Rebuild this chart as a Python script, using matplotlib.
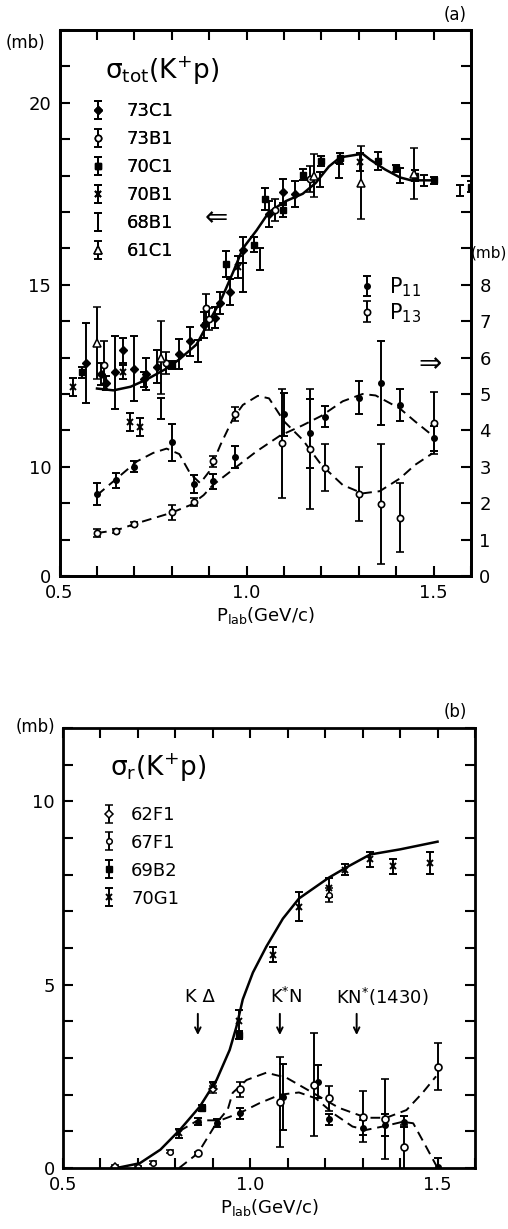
import numpy as np
import matplotlib
matplotlib.use("Agg")
import matplotlib.pyplot as plt
from matplotlib.ticker import FixedLocator, FixedFormatter, MultipleLocator

plt.rcParams['font.family'] = ['DejaVu Sans']
plt.rcParams['mathtext.fontset'] = 'dejavusans'

# ---------------- panel (a): sigma_tot(K+p), left axis in mb (broken: 7 shown as 0)
# (p_lab, sigma, error)
s73C1 = [(0.57, 12.85, 1.1), (0.61, 12.55, 0.3), (0.625, 12.3, 0.2), (0.647, 12.6, 1.0),
         (0.67, 13.2, 0.35), (0.70, 12.7, 0.9), (0.725, 12.4, 0.2), (0.73, 12.55, 0.45),
         (0.76, 12.75, 0.45), (0.82, 13.1, 0.4), (0.85, 13.45, 0.4), (0.885, 13.9, 0.35),
         (0.915, 14.1, 0.3), (0.93, 14.5, 0.3), (0.955, 14.8, 0.35), (0.99, 15.95, 0.35),
         (1.06, 16.95, 0.35), (1.097, 17.55, 0.35), (1.13, 17.5, 0.35)]
s73B1 = [(0.62, 12.8, 0.65), (0.785, 12.85, 0.3), (0.892, 14.35, 0.4), (0.90, 14.05, 0.3),
         (1.075, 17.05, 0.3), (1.17, 17.9, 0.35)]
s70C1 = [(0.56, 12.6, 0.15), (0.80, 12.8, 0.1), (0.945, 15.57, 0.35), (1.02, 16.1, 0.2),
         (1.05, 17.35, 0.3), (1.097, 17.05, 0.2), (1.15, 18.03, 0.15), (1.20, 18.4, 0.15),
         (1.25, 18.47, 0.15), (1.35, 18.4, 0.25), (1.40, 18.2, 0.1), (1.45, 18.0, 0.15),
         (1.50, 17.87, 0.1), (1.60, 17.7, 0.15)]
s70B1 = [(0.537, 12.2, 0.25), (0.67, 12.6, 0.2), (0.687, 11.23, 0.25), (0.715, 11.1, 0.25),
         (0.977, 15.5, 0.3), (1.303, 18.38, 0.25)]
s68B1 = [(0.77, 11.6, 0.3), (0.87, 13.17, 0.3), (0.99, 15.2, 0.4), (1.036, 15.7, 0.3),
         (1.196, 17.9, 0.2), (1.247, 18.14, 0.2), (1.41, 18.0, 0.2), (1.475, 17.87, 0.15),
         (1.57, 17.6, 0.15)]
s61C1 = [(0.60, 13.4, 1.0), (0.77, 13.0, 1.0), (1.18, 18.0, 0.6), (1.306, 17.8, 1.0),
         (1.447, 18.05, 0.7)]

fit_tot_p = [0.6, 0.644, 0.69, 0.733, 0.786, 0.82, 0.866, 0.90, 0.93, 0.945, 0.964, 0.99,
             1.027, 1.06, 1.105, 1.15, 1.185, 1.22, 1.25, 1.31, 1.33, 1.37, 1.41, 1.44, 1.497]
fit_tot_s = [12.15, 12.1, 12.2, 12.4, 12.7, 12.95, 13.36, 14.0, 14.55, 14.9, 15.35, 16.0,
             16.5, 17.0, 17.3, 17.5, 17.8, 18.25, 18.5, 18.6, 18.44, 18.17, 17.95, 17.87, 17.87]

# partial cross sections, right axis (mb)
p11 = [(0.60, 2.25, 0.3), (0.65, 2.63, 0.2), (0.70, 3.0, 0.15), (0.80, 3.67, 0.5),
       (0.86, 2.52, 0.25), (0.91, 2.6, 0.2), (0.97, 3.26, 0.3), (1.10, 4.44, 0.6),
       (1.17, 3.92, 0.95), (1.21, 4.38, 0.3), (1.30, 4.9, 0.45), (1.36, 5.3, 1.15),
       (1.41, 4.7, 0.45), (1.50, 3.78, 0.35)]
p13 = [(0.60, 1.18, 0.1), (0.65, 1.24, 0.06), (0.70, 1.42, 0.06), (0.80, 1.75, 0.2),
       (0.86, 2.03, 0.12), (0.91, 3.15, 0.15), (0.97, 4.45, 0.2), (1.095, 3.65, 1.5),
       (1.17, 3.5, 1.65), (1.21, 2.98, 0.65), (1.30, 2.25, 0.75), (1.36, 1.97, 1.65),
       (1.41, 1.6, 0.95), (1.50, 4.2, 0.85)]

fitA_p = [0.6, 0.707, 0.75, 0.786, 0.82, 0.85, 0.876, 0.90, 0.93, 0.964, 0.99, 1.03, 1.06,
          1.10, 1.15, 1.20, 1.257, 1.31, 1.356, 1.41, 1.45, 1.497]
fitA_r = [2.22, 3.15, 3.38, 3.5, 3.35, 2.8, 2.55, 2.87, 3.6, 4.33, 4.7, 4.95, 4.88,
          4.25, 3.74, 3.05, 2.5, 2.27, 2.33, 2.68, 3.05, 3.37]
fitB_p = [0.6, 0.653, 0.707, 0.797, 0.85, 0.885, 0.91, 0.973, 1.026, 1.09, 1.15, 1.2,
          1.257, 1.31, 1.345, 1.41, 1.45, 1.497]
fitB_r = [1.18, 1.26, 1.45, 1.73, 1.95, 2.22, 2.5, 3.0, 3.42, 3.86, 4.14, 4.4,
          4.8, 5.0, 4.96, 4.6, 4.25, 3.86]

# ---------------- panel (b): sigma_r(K+p)
s62F1 = [(0.64, 0.03, 0.04), (0.90, 2.15, 0.1)]
s67F1 = [(0.70, 0.03, 0.03), (0.74, 0.14, 0.04), (0.785, 0.45, 0.05), (1.21, 7.45, 0.2)]
s69B2 = [(0.87, 1.64, 0.08), (0.97, 3.63, 0.12)]
s70G1 = [(0.81, 0.95, 0.12), (0.90, 2.25, 0.1), (0.97, 4.0, 0.3), (1.06, 5.82, 0.2),
         (1.13, 7.13, 0.4), (1.21, 7.65, 0.25), (1.252, 8.14, 0.15), (1.32, 8.42, 0.2),
         (1.38, 8.23, 0.2), (1.48, 8.33, 0.3)]

part_fill = [(0.86, 1.26, 0.1), (0.91, 1.23, 0.12), (0.972, 1.5, 0.15), (1.087, 1.95, 0.9),
             (1.18, 2.35, 0.45), (1.21, 1.33, 0.15), (1.30, 1.1, 0.2), (1.36, 1.17, 0.3),
             (1.41, 1.26, 0.15), (1.50, 0.03, 0.25)]
part_open = [(0.86, 0.4, 0.05), (0.972, 2.15, 0.2), (1.08, 1.8, 1.23), (1.17, 2.27, 1.4),
             (1.21, 1.9, 0.35), (1.30, 1.4, 0.7), (1.36, 1.34, 1.1), (1.41, 0.57, 0.6),
             (1.50, 2.76, 0.64)]

fit_r_p = [0.643, 0.705, 0.76, 0.812, 0.865, 0.91, 0.945, 0.963, 0.98, 1.007, 1.043,
           1.087, 1.13, 1.21, 1.257, 1.32, 1.4, 1.5]
fit_r_s = [0, 0.13, 0.5, 1.04, 1.67, 2.4, 3.22, 3.85, 4.6, 5.33, 6.04, 6.8, 7.35, 7.92,
           8.2, 8.55, 8.69, 8.9]
fitC_p = [0.81, 0.86, 0.91, 0.94, 0.953, 0.99, 1.043, 1.097, 1.167, 1.237, 1.31, 1.363,
          1.417, 1.46, 1.496]
fitC_r = [0, 0.4, 1.23, 1.6, 2.05, 2.4, 2.6, 2.46, 2.05, 1.64, 1.37, 1.37, 1.58, 2.05, 2.5]
fitD_p = [0.81, 0.86, 0.92, 0.972, 1.025, 1.08, 1.13, 1.175, 1.22, 1.273, 1.31, 1.353,
          1.407, 1.435, 1.47, 1.5]
fitD_r = [1.0, 1.3, 1.3, 1.5, 1.77, 2.0, 2.06, 1.9, 1.5, 1.13, 1.04, 1.13, 1.26, 1.22, 0.57, 0]

thresholds = [("K Δ", 0.865, 0.86), ("K$^{*}$N", 1.097, 1.079), ("KN$^{*}$(1430)", 1.353, 1.284)]


def eb(ax, data, label=None, **kw):
    d = np.array(data)
    style = dict(ls='none', color='black', ecolor='black', elinewidth=1.4, capsize=3,
                 capthick=1.4, ms=4.5, mec='black')
    style.update(kw)
    return ax.errorbar(d[:, 0], d[:, 1], yerr=d[:, 2], label=label, **style)


def frame(ax):
    for s in ax.spines.values():
        s.set_linewidth(2)
    ax.tick_params(direction='in', length=7, width=1.5, labelsize=13,
                   top=True, right=False, pad=6)
    ax.xaxis.set_minor_locator(MultipleLocator(0.1))
    ax.tick_params(which='minor', direction='in', length=7, width=1.5, top=True)
    ax.set_xlim(0.5, 1.6)
    ax.set_xticks([0.5, 1.0, 1.5])
    ax.set_xticklabels(['0.5', '1.0', '1.5'])


fig = plt.figure(figsize=(5.08, 12.29), dpi=100)

# ---- (a)
ax = fig.add_axes([59.6 / 508, 1 - 576 / 1229, 411.4 / 508, 546 / 1229])
frame(ax)
ax.set_ylim(7, 22)
ax.yaxis.set_major_locator(FixedLocator(np.arange(7, 23)))
ax.yaxis.set_major_formatter(FixedFormatter(
    ['0' if t == 7 else (str(t) if t in (10, 15, 20) else '') for t in range(7, 23)]))
ax.set_xlabel('P$_{\\rm lab}$(GeV/c)', fontsize=13, labelpad=2)

h1 = eb(ax, s73C1, '73C1', marker='D', ms=3.8, mfc='black')
h2 = eb(ax, s73B1, '73B1', marker='o', mfc='white', mew=1.2)
h3 = eb(ax, s70C1, '70C1', marker='s', mfc='black')
h4 = eb(ax, s70B1, '70B1', marker='x', mew=1.4)
h5 = eb(ax, s68B1, '68B1', marker='none')
h6 = eb(ax, s61C1, '61C1', marker='^', mfc='white', ms=5.5, mew=1.1)
ax.plot(fit_tot_p, fit_tot_s, color='black', lw=1.8)

leg = ax.legend(handles=[h1, h2, h3, h4, h5, h6], loc='upper left',
                bbox_to_anchor=(0.04, 0.897), frameon=False, fontsize=13,
                handlelength=0.6, handletextpad=1.3, labelspacing=0.55)
ax.add_artist(leg)
ax.text(0.11, 0.925, 'σ$_{\\rm tot}$(K$^{+}$p)', transform=ax.transAxes,
        fontsize=19, va='center', ha='left')
ax.text(0.38, 0.655, '⇐', transform=ax.transAxes, fontsize=20, va='center', ha='center')

ax2 = ax.twinx()
ax2.set_ylim(0, 15)
ax2.yaxis.set_major_locator(FixedLocator(np.arange(0, 16)))
ax2.yaxis.set_major_formatter(FixedFormatter([str(t) if t <= 8 else '' for t in range(16)]))
ax2.tick_params(direction='in', length=7, width=1.5, labelsize=13, pad=6)
for s in ax2.spines.values():
    s.set_linewidth(2)
g1 = eb(ax2, p11, 'P$_{11}$', marker='o', mfc='black', ms=4)
g2 = eb(ax2, p13, 'P$_{13}$', marker='o', mfc='white', ms=4.5, mew=1.2)
ax2.plot(fitA_p, fitA_r, color='black', lw=1.4, ls=(0, (5, 3)))
ax2.plot(fitB_p, fitB_r, color='black', lw=1.4, ls=(0, (5, 3)))
ax2.legend(handles=[g1, g2], loc='upper left', bbox_to_anchor=(0.69, 0.585),
           frameon=False, fontsize=15, handlelength=0.5, handletextpad=0.8,
           labelspacing=0.1)
ax2.text(0.9, 0.389, '⇒', transform=ax2.transAxes, fontsize=20, va='center', ha='center')

fig.text(25 / 508, 1 - 43 / 1229, '(mb)', fontsize=12, ha='center', va='center')
fig.text(455 / 508, 1 - 15 / 1229, '(a)', fontsize=12, ha='center', va='center')
fig.text(507 / 508, 1 - 253 / 1229, '(mb)', fontsize=11, ha='right', va='center')

# ---- (b)
bx = fig.add_axes([63 / 508, 1 - 1168 / 1229, 412 / 508, 440 / 1229])
frame(bx)
bx.tick_params(right=True)
bx.set_ylim(0, 12)
bx.yaxis.set_major_locator(FixedLocator(np.arange(0, 13)))
bx.yaxis.set_major_formatter(FixedFormatter(
    [str(t) if t in (0, 5, 10) else '' for t in range(13)]))
bx.set_xlabel('P$_{\\rm lab}$(GeV/c)', fontsize=13, labelpad=2)

k1 = eb(bx, s62F1, '62F1', marker='D', ms=3.8, mfc='white', mew=1.1)
k2 = eb(bx, s67F1, '67F1', marker='o', ms=4, mfc='white', mew=1.1)
k3 = eb(bx, s69B2, '69B2', marker='s', mfc='black')
k4 = eb(bx, s70G1, '70G1', marker='x', mew=1.4)
eb(bx, part_fill, marker='o', mfc='black', ms=4)
eb(bx, part_open, marker='o', mfc='white', ms=5, mew=1.2)
bx.plot(fit_r_p, fit_r_s, color='black', lw=1.8)
bx.plot(fitC_p, fitC_r, color='black', lw=1.4, ls=(0, (5, 3)))
bx.plot(fitD_p, fitD_r, color='black', lw=1.4, ls=(0, (5, 3)))

bx.legend(handles=[k1, k2, k3, k4], loc='upper left', bbox_to_anchor=(0.06, 0.86),
          frameon=False, fontsize=13, handlelength=0.6, handletextpad=0.9,
          labelspacing=0.55)
bx.text(0.115, 0.91, 'σ$_{\\rm r}$(K$^{+}$p)', transform=bx.transAxes,
        fontsize=19, va='center', ha='left')

for lab, xt, xa in thresholds:
    bx.text(xt, 4.67, lab, fontsize=13, ha='center', va='center')
    bx.annotate('', xy=(xa, 3.55), xytext=(xa, 4.28),
                arrowprops=dict(arrowstyle='->', color='black', lw=1.4))

fig.text(35 / 508, 1 - 727 / 1229, '(mb)', fontsize=12, ha='center', va='center')
fig.text(455 / 508, 1 - 712 / 1229, '(b)', fontsize=12, ha='center', va='center')

fig.savefig('out.png', dpi=100)
